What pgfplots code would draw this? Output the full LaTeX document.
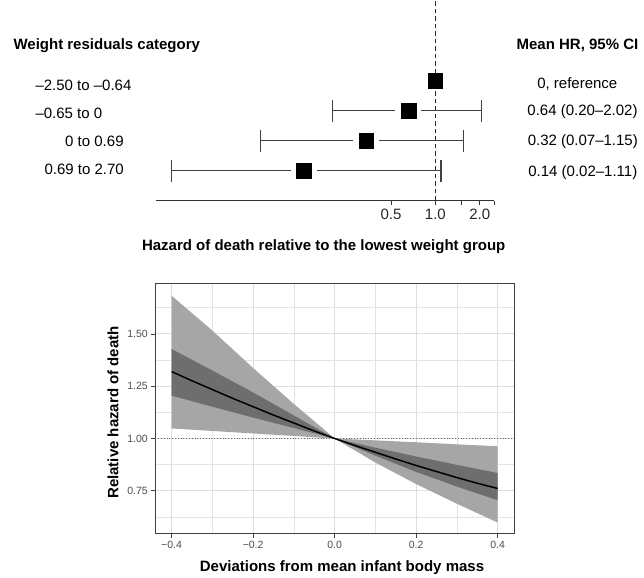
\documentclass[border=0pt]{standalone}
\usepackage{fontspec}
\setmainfont{Liberation Sans}
\usepackage{pgfplots}
\usepackage{pgfplotstable}
\pgfplotsset{compat=1.18}
\usepgfplotslibrary{fillbetween}

\pgfplotstableread{
x ou ol iu il
-0.4 1.683 1.048 1.428 1.205
-0.3 1.516 1.036 1.325 1.152
-0.2 1.337 1.024 1.220 1.100
-0.1 1.165 1.012 1.110 1.050
0.0 1.000 1.000 1.000 1.000
0.1 0.991 0.885 0.956 0.918
0.2 0.982 0.782 0.914 0.840
0.3 0.972 0.688 0.874 0.770
0.4 0.963 0.598 0.835 0.705
}\bandtable

\pgfplotstableread{
x m
-0.40 1.320
-0.35 1.276
-0.30 1.234
-0.25 1.192
-0.20 1.152
-0.15 1.112
-0.10 1.074
-0.05 1.036
0.00 1.000
0.05 0.966
0.10 0.934
0.15 0.902
0.20 0.871
0.25 0.842
0.30 0.813
0.35 0.786
0.40 0.761
}\meantable

% forest plot: row, lower CI, mean, upper CI
\pgfplotstableread{
row lo m hi
3 0.200 0.656 2.060
2 0.0651 0.339 1.555
1 0.0162 0.1275 1.093
}\foresttable

\newcommand{\bigfont}{\fontsize{15}{18}\selectfont}

\begin{document}
\begin{tikzpicture}
\path (0pt,0pt) rectangle (644pt,577pt);

% ---------------- top forest plot ----------------
\begin{axis}[
  at={(155.7pt,376.7pt)}, anchor=south west,
  scale only axis, width=338.3pt, height=200.3pt,
  xmode=log, xmin=0.01262, xmax=2.5,
  ymin=0, ymax=6.677,
  axis x line*=bottom, axis y line=none,
  xtick={0.5,1,1.5,2,2.5}, xticklabels={0.5,1.0,,2.0,},
  minor x tick num=0, xminorticks=false,
  tick align=outside, major tick length=4.5pt,
  axis line style={draw=black!80, line width=1.2pt},
  tick style={draw=black!80, line width=1pt},
  xticklabel style={font=\bigfont, text=black!85},
  clip=false,
]
\addplot[black!85, line width=1.1pt, dash pattern=on 4.5pt off 3pt] coordinates {(1,0) (1,6.677)};
% CI lines
\addplot[black!75, line width=1.2pt] coordinates {(0.200,3) (2.060,3)};
\addplot[black!75, line width=1.2pt] coordinates {(0.0651,2) (1.555,2)};
\addplot[black!75, line width=1.2pt] coordinates {(0.0162,1) (1.093,1)};
% caps
\addplot[black!75, line width=1.2pt] coordinates {(0.200,2.63) (0.200,3.37)};
\addplot[black!75, line width=1.2pt] coordinates {(2.060,2.63) (2.060,3.37)};
\addplot[black!75, line width=1.2pt] coordinates {(0.0651,1.63) (0.0651,2.37)};
\addplot[black!75, line width=1.2pt] coordinates {(1.555,1.63) (1.555,2.37)};
\addplot[black!75, line width=1.2pt] coordinates {(0.0162,0.63) (0.0162,1.37)};
\addplot[black!75, line width=1.2pt] coordinates {(1.093,0.63) (1.093,1.37)};
% white halo then black squares
\addplot[white, only marks, mark=square*, mark size=12.5pt, line width=0pt,
  mark options={fill=white, draw=white}]
  table[x=m, y=row] {\foresttable};
\addplot[black, only marks, mark=square*, mark size=7.3pt, line width=0.4pt,
  mark options={fill=black, draw=black}]
  table[x=m, y=row] {\foresttable};
\addplot[black, only marks, mark=square*, mark size=7.3pt, line width=0.4pt,
  mark options={fill=black, draw=black}]
  coordinates {(1,4)};
\end{axis}

% top panel texts
\node[anchor=west, font=\bfseries\bigfont] at (10pt,532pt) {Weight residuals category};
\node[font=\bfseries\bigfont] at (577.5pt,532pt) {Mean HR, 95\% CI};
\node[anchor=west, font=\bigfont] at (32pt,492pt) {–2.50 to –0.64};
\node[anchor=west, font=\bigfont] at (32pt,464pt) {–0.65 to 0};
\node[anchor=west, font=\bigfont] at (61.7pt,436pt) {0 to 0.69};
\node[anchor=west, font=\bigfont] at (41pt,408pt) {0.69 to 2.70};
\node[font=\bigfont] at (577.3pt,493.7pt) {0, reference};
\node[font=\bigfont] at (582.5pt,466.3pt) {0.64 (0.20–2.02)};
\node[font=\bigfont] at (582.8pt,436pt) {0.32 (0.07–1.15)};
\node[font=\bigfont] at (582.8pt,405.3pt) {0.14 (0.02–1.11)};
\node[font=\bfseries\bigfont] at (323.7pt,331pt) {Hazard of death relative to the lowest weight group};

% ---------------- bottom ribbon plot ----------------
\begin{axis}[
  at={(155.3pt,43.7pt)}, anchor=south west,
  scale only axis, width=358.7pt, height=250pt,
  xmin=-0.44, xmax=0.44, ymin=0.544, ymax=1.7395,
  xtick={-0.4,-0.2,0,0.2,0.4}, xticklabels={−0.4,−0.2,0.0,0.2,0.4},
  ytick={0.75,1,1.25,1.5}, yticklabels={0.75,1.00,1.25,1.50},
  minor xtick={-0.3,-0.1,0.1,0.3},
  minor ytick={0.625,0.875,1.125,1.375,1.625},
  grid=both,
  major grid style={draw=black!13, line width=1pt},
  minor grid style={draw=black!11, line width=0.7pt},
  axis line style={draw=black!75, line width=1pt},
  tick pos=left, tick align=outside,
  major tick length=4pt, minor tick length=0pt,
  tick style={draw=black!75, line width=0.8pt},
  ticklabel style={font=\fontsize{10.5}{12}\selectfont, text=black!70},
]
\addplot[black!60, line width=0.8pt, dotted] coordinates {(-0.44,1) (0.44,1)};
\addplot[name path=ou, draw=none] table[x=x, y=ou] {\bandtable};
\addplot[name path=ol, draw=none] table[x=x, y=ol] {\bandtable};
\addplot[fill=black!35, draw=none] fill between[of=ou and ol];
\addplot[name path=iu, draw=none] table[x=x, y=iu] {\bandtable};
\addplot[name path=il, draw=none] table[x=x, y=il] {\bandtable};
\addplot[fill=black!57, draw=none] fill between[of=iu and il];
\addplot[black, line width=1.5pt] table[x=x, y=m] {\meantable};
\end{axis}

\node[font=\bfseries\bigfont] at (342pt,10pt) {Deviations from mean infant body mass};
\node[rotate=90, font=\bfseries\bigfont] at (113pt,165pt) {Relative hazard of death};
\end{tikzpicture}
\end{document}
